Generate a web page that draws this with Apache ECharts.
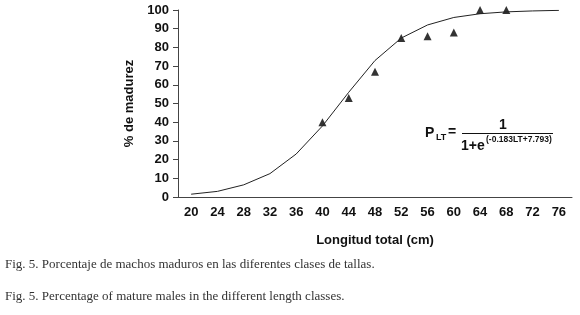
<!DOCTYPE html>
<html>
<head>
<meta charset="utf-8">
<script src="https://cdn.jsdelivr.net/npm/echarts@6/dist/echarts.min.js"></script>
<style>
  html, body { margin: 0; padding: 0; background: #fff; }
  #chart { width: 580px; height: 315px; }
</style>
</head>
<body>
<div id="chart"></div>
<script>
// clases de talla (cm)
var tallas = ['20', '24', '28', '32', '36', '40', '44', '48', '52', '56', '60', '64', '68', '72', '76'];
// curva ajustada
var curva = [1.5, 3, 6.5, 12.5, 23, 38, 56, 73, 85, 92, 96, 98, 99, 99.5, 99.8];
// porcentaje observado de machos maduros
var observadoX = ['40', '44', '48', '52', '56', '60', '64', '68'];
var observadoY = [40, 53, 67, 85, 86, 88, 100, 100];
var yTicks = [0, 100, 10];

var myChart = echarts.init(document.getElementById('chart'));

var bold = { fontFamily: 'Liberation Sans', fontWeight: 'bold', fontSize: 13, color: '#111' };

var option = {
  animation: false,
  grid: { left: 178, right: 8, top: 10, bottom: 118 },
  xAxis: {
    type: 'category',
    data: tallas,
    boundaryGap: true,
    name: 'Longitud total (cm)',
    nameLocation: 'middle',
    nameGap: 37,
    nameTextStyle: bold,
    axisLine: { lineStyle: { color: '#444', width: 1 } },
    axisTick: { alignWithLabel: false, length: 5, lineStyle: { color: '#444' } },
    axisLabel: Object.assign({ margin: 9 }, bold),
    splitLine: { show: false }
  },
  yAxis: {
    type: 'value',
    min: yTicks[0],
    max: yTicks[1],
    interval: yTicks[2],
    name: '% de madurez',
    nameLocation: 'middle',
    nameGap: 41,
    nameTextStyle: bold,
    axisLine: { show: true, lineStyle: { color: '#444', width: 1 } },
    axisTick: { show: true, length: 5, lineStyle: { color: '#444' } },
    axisLabel: Object.assign({ margin: 9 }, bold),
    splitLine: { show: false }
  },
  series: [{
    type: 'line',
    data: curva,
    showSymbol: false,
    smooth: false,
    lineStyle: { color: '#222', width: 1 }
  }, {
    type: 'scatter',
    data: observadoX.map(function (x, i) { return [x, observadoY[i]]; }),
    symbol: 'triangle',
    symbolSize: [8, 8],
    itemStyle: { color: '#000' }
  }],
  graphic: [
    { type: 'text', left: 425, top: 126, style: { text: 'P', font: 'bold 14px Liberation Sans', fill: '#111' } },
    { type: 'text', left: 436, top: 133, style: { text: 'LT', font: 'bold 9px Liberation Sans', fill: '#111' } },
    { type: 'text', left: 448, top: 125, style: { text: '=', font: 'bold 14px Liberation Sans', fill: '#111' } },
    { type: 'line', shape: { x1: 462, y1: 133.5, x2: 553, y2: 133.5 }, style: { stroke: '#111', lineWidth: 1 } },
    { type: 'text', left: 499, top: 118, style: { text: '1', font: 'bold 14px Liberation Sans', fill: '#111' } },
    { type: 'text', left: 461, top: 139, style: { text: '1+e', font: 'bold 14px Liberation Sans', fill: '#111' } },
    { type: 'text', left: 486, top: 135, style: { text: '(-0.183LT+7.793)', font: 'bold 8.5px Liberation Sans', fill: '#111' } },
    { type: 'text', left: 5, top: 258, style: { text: 'Fig. 5. Porcentaje de machos maduros en las diferentes clases de tallas.', font: '13px Liberation Serif', fill: '#333' } },
    { type: 'text', left: 5, top: 290, style: { text: 'Fig. 5. Percentage of mature males in the different length classes.', font: '13px Liberation Serif', fill: '#333' } }
  ]
};

myChart.setOption(option);
</script>
</body>
</html>
